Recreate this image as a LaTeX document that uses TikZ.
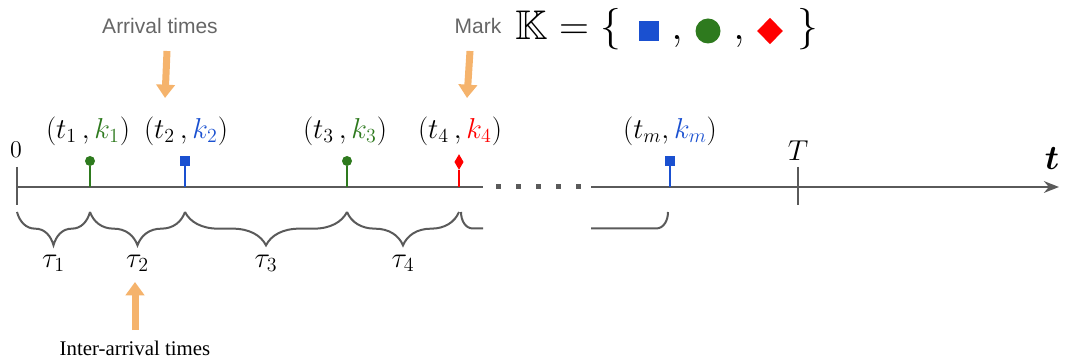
\documentclass[tikz,border=0pt]{standalone}
\usepackage{amsmath}
\usepackage{amssymb}
\usepackage{bm}
\usepackage{fontspec}
\newfontfamily\hintsans{Liberation Sans}
\newfontfamily\hintserif{Liberation Serif}
\usetikzlibrary{arrows.meta,positioning,shapes.geometric,decorations.pathreplacing}

\definecolor{markgreen}{HTML}{2E7A1E}
\definecolor{markblue}{HTML}{1A50D0}
\definecolor{markred}{HTML}{FF0000}
\definecolor{axisgray}{HTML}{5A5A5A}
\definecolor{hintorange}{HTML}{F5B36C}

\begin{document}
\begin{tikzpicture}[x=0.6pt, y=0.6pt,
    % styles for the time line
    axisline/.style={axisgray, line width=1.5pt},
    tickline/.style={axisgray, line width=1.3pt},
    stem/.style={line width=1.2pt},
    dotmark/.style={circle, fill=markgreen, inner sep=0pt, minimum size=6pt},
    squaremark/.style={rectangle, fill=markblue, inner sep=0pt, minimum size=6pt},
    diamondmark/.style={diamond, fill=markred, inner sep=0pt, minimum width=5.6pt, minimum height=9.5pt},
    evlabel/.style={font=\LARGE},
    taulabel/.style={font=\fontsize{18.5}{22}\selectfont, text=black},
    gapbrace/.style={axisgray, line width=1.2pt, decorate, decoration={brace, mirror, amplitude=20pt}},
    bracepiece/.style={axisgray, line width=1.2pt},
    hint/.style={hintorange, line width=4.2pt, -{Triangle[width=11pt, length=8pt]}},
    hinttext/.style={font=\hintsans\fontsize{12.6}{15}\selectfont, text=black!60}
]
\useasboundingbox (0,0) rectangle (1067,362);

% Points on the time axis
\coordinate (o) at (17,175);
\coordinate (e1) at (90,175);
\coordinate (e2) at (185,175);
\coordinate (e3) at (347,175);
\coordinate (e4) at (459,175);
\coordinate (gapL) at (483,175);
\coordinate (dotsL) at (496,175);
\coordinate (dotsR) at (582,175);
\coordinate (gapR) at (591,175);
\coordinate (em) at (670,175);
\coordinate (eT) at (798,175);
\coordinate (tend) at (1059,175);

% Axis with the gap
\draw[axisline] (o) -- (gapL);
\draw[axisgray, line width=3pt, dash pattern=on 3pt off 9pt] (dotsL) -- (dotsR);
\draw[axisline, -{Stealth[length=9pt, width=7pt]}] (gapR) -- (tend);
\draw[tickline] ([yshift=12pt]o) -- ([yshift=-11pt]o);
\draw[tickline] ([yshift=12pt]eT) -- ([yshift=-11pt]eT);
\node[font=\Large] (zero) at (16,212) {$0$};
\node[font=\LARGE] (Tlab) at (798,211) {$T$};
\node[font=\huge] (tlab) at (1052,203) {$\bm{t}$};

% Marked events
\node[dotmark] (m1) at (90,201) {};
\node[squaremark] (m2) at (185,201) {};
\node[dotmark] (m3) at (347,201) {};
\node[diamondmark] (m4) at (459,200) {};
\node[squaremark] (mm) at (670,201) {};
\draw[stem, markgreen] (e1) -- (m1);
\draw[stem, markblue] (e2) -- (m2);
\draw[stem, markgreen] (e3) -- (m3);
\draw[stem, markred] (e4) -- (m4);
\draw[stem, markblue] (em) -- (mm);

\node[evlabel] (l1) at (88,231) {$(t_1\,, {\color{markgreen}k_1})$};
\node[evlabel] (l2) at (186,231) {$(t_2\,, {\color{markblue}k_2})$};
\node[evlabel] (l3) at (345,231) {$(t_3\,, {\color{markgreen}k_3})$};
\node[evlabel] (l4) at (460,231) {$(t_4\,, {\color{markred}k_4})$};
\node[evlabel] (lm) at (670,231) {$(t_m,{\color{markblue}k_m})$};

% Inter-arrival braces
\draw[gapbrace] ([yshift=-15pt]o) -- ([yshift=-15pt]e1) node[midway, below=22pt, taulabel] (tau1) {$\tau_1$};
\draw[gapbrace] ([yshift=-15pt]e1) -- ([yshift=-15pt]e2) node[midway, below=22pt, taulabel] (tau2) {$\tau_2$};
\draw[gapbrace] ([yshift=-15pt]e2) -- ([yshift=-15pt]e3) node[midway, below=22pt, taulabel] (tau3) {$\tau_3$};
\draw[gapbrace] ([yshift=-15pt]e3) -- ([yshift=-15pt]e4) node[midway, below=22pt, taulabel] (tau4) {$\tau_4$};
\coordinate (pa) at (461,150);
\coordinate (pb) at (473,133.5);
\coordinate (pc) at (483,133.5);
\coordinate (pd) at (591,133.5);
\coordinate (pe) at (656,133.5);
\coordinate (pf) at (668,150);
\draw[bracepiece] (pa) to[out=-90, in=180] (pb) -- (pc);
\draw[bracepiece] (pd) -- (pe) to[out=0, in=-90] (pf);

% Hints
\node[hinttext] (arrtxt) at (160,336) {Arrival times};
\coordinate (arrtop) at (167,311);
\coordinate (arrtip) at (165,264);
\draw[hint] (arrtop) -- (arrtip);

\node[hinttext] (marktxt) at (478,336) {Mark};
\coordinate (marktop) at (470,311);
\coordinate (marktip) at (467,264);
\draw[hint] (marktop) -- (marktip);

\node[font=\hintserif\fontsize{12.5}{15}\selectfont] (intertxt) at (135,14) {Inter-arrival times};
\coordinate (intbot) at (135,32);
\coordinate (inttip) at (135,80);
\draw[hint] (intbot) -- (inttip);

% Mark set
\node[font=\Huge, anchor=base west, inner sep=0pt] (kset) at (515,322) {$\mathbb{K}=\{$};
\node[rectangle, fill=markblue, inner sep=0pt, minimum size=11.5pt] (ksq) at (649,331) {};
\node[font=\Huge, anchor=base, inner sep=0pt] (kc1) at (677,322) {$,$};
\node[circle, fill=markgreen, inner sep=0pt, minimum size=15pt] (kci) at (708,331) {};
\node[font=\Huge, anchor=base, inner sep=0pt] (kc2) at (739,322) {$,$};
\node[diamond, fill=markred, inner sep=0pt, minimum width=15.5pt, minimum height=16pt] (kdi) at (770,331) {};
\node[font=\Huge, anchor=base west, inner sep=0pt] (kend) at (797,322) {$\}$};

\end{tikzpicture}
\end{document}
